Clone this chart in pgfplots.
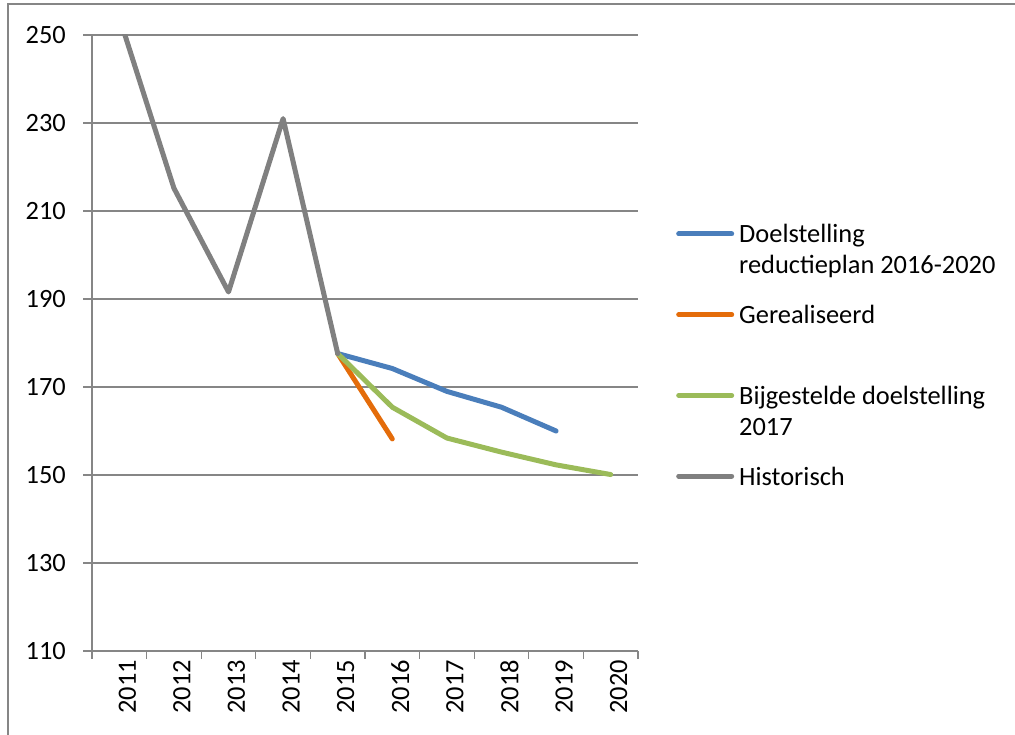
\documentclass[border=0pt]{standalone}
\usepackage{pgfplots}
\pgfplotsset{compat=1.18}
\usepackage{fontspec}
\setmainfont{Carlito}
\definecolor{cblue}{HTML}{4A7EBB}
\definecolor{corange}{HTML}{E46C0A}
\definecolor{cgreen}{HTML}{9BBB59}
\definecolor{cgray}{HTML}{808080}
\definecolor{gridgray}{HTML}{868686}
\newcommand{\cfont}{\fontsize{26.4}{31}\selectfont}
\newcommand{\lgd}[1]{\raisebox{-11pt}{#1}}
\begin{document}
\begin{tikzpicture}[x=1pt,y=1pt]
\useasboundingbox (0,0) rectangle (1015,735);
\draw[gridgray, line width=1.2pt] (8,-5) -- (8,731) -- (1020,731);
\begin{axis}[
  at={(92pt,84pt)}, anchor=south west,
  width=546pt, height=616pt, scale only axis,
  xmin=0.5, xmax=10.5, ymin=110, ymax=250,
  xtick={1,2,3,4,5,6,7,8,9,10},
  xticklabels={2011,2012,2013,2014,2015,2016,2017,2018,2019,2020},
  minor xtick={0.5,1.5,2.5,3.5,4.5,5.5,6.5,7.5,8.5,9.5,10.5},
  ytick={110,130,150,170,190,210,230,250},
  major x tick style={draw=none},
  tick align=outside,
  major tick length=9pt, minor tick length=8pt,
  axis x line*=bottom, axis y line*=left,
  axis line style={gridgray, line width=1.2pt, -},
  ymajorgrids, grid style={gridgray, line width=1.2pt},
  tick style={gridgray, line width=1.2pt},
  /pgf/number format/assume math mode=true,
  tick label style={font=\cfont, text=black},
  xticklabel style={rotate=90, anchor=east, inner sep=0pt, yshift=-8pt},
  yticklabel style={anchor=east, inner sep=0pt, xshift=-17pt},
  legend style={draw=none, fill=none, at={(1.0696,0.713)}, anchor=north west,
    inner sep=0pt, column sep=5pt, row sep=20.7pt, font=\cfont,
    nodes={inner sep=0pt, text height=20pt, text depth=40pt}},
  legend cell align=left,
  legend image code/.code={\draw[#1, line width=5pt, line cap=round] (2.5pt,8pt) -- (55.5pt,8pt);},
]
\addplot[cblue, line width=5pt, line join=round, line cap=round] coordinates {(5,177.6) (6,174.2) (7,169) (8,165.4) (9,160)};
\addlegendentry{\lgd{\parbox[t]{300pt}{Doelstelling\\reductieplan 2016-2020}}}
\addplot[corange, line width=5pt, line join=round, line cap=round] coordinates {(5,177.6) (6,158.2)};
\addlegendentry{\lgd{Gerealiseerd}}
\addplot[cgreen, line width=5pt, line join=round, line cap=round] coordinates {(5,177.6) (6,165.4) (7,158.4) (8,155.2) (9,152.3) (10,150.1)};
\addlegendentry{\lgd{\parbox[t]{300pt}{Bijgestelde doelstelling\\2017}}}
\addplot[cgray, line width=5pt, line join=round, line cap=round] coordinates {(1,254) (2,215.2) (3,191.6) (4,231) (5,177.6)};
\addlegendentry{\lgd{Historisch}}
\end{axis}
\end{tikzpicture}
\end{document}
